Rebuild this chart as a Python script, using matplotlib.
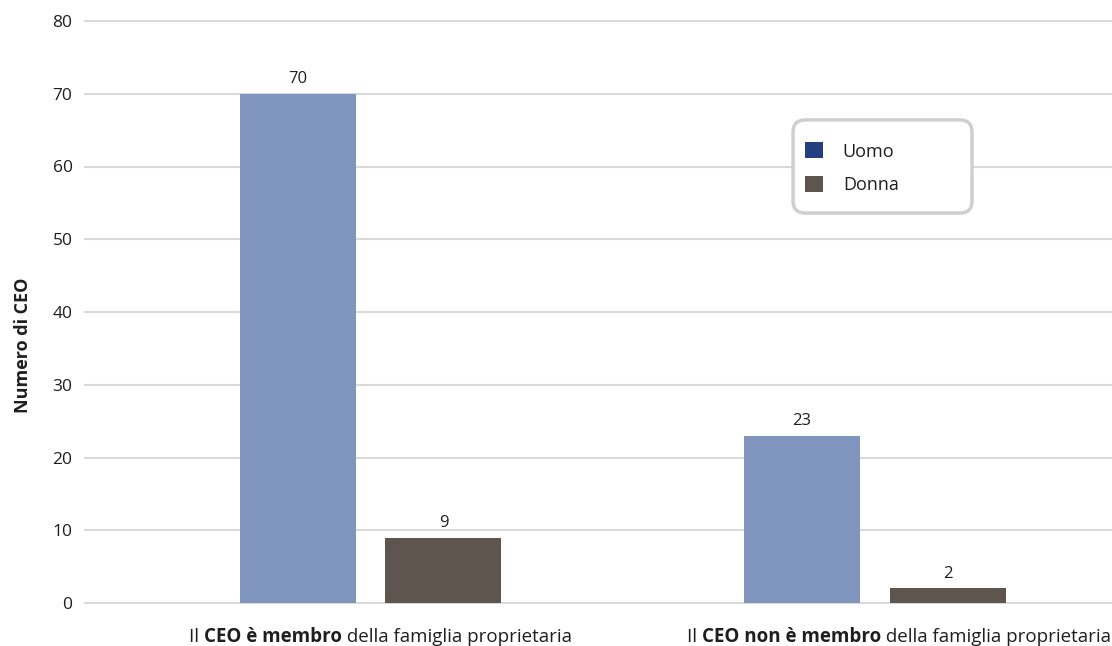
import matplotlib
matplotlib.use("Agg")
import matplotlib.pyplot as plt
import numpy as np
from matplotlib.patches import Patch, FancyBboxPatch
from matplotlib.offsetbox import TextArea, HPacker, AnnotationBbox

plt.rcParams['font.family'] = ['Open Sans', 'DejaVu Sans']

# Data
categories = [
    [("Il ", "normal"), ("CEO è membro", "bold"), (" della famiglia proprietaria", "normal")],
    [("Il ", "normal"), ("CEO non è membro", "bold"), (" della famiglia proprietaria", "normal")],
]
series_names = ["Uomo", "Donna"]
uomo = [70, 23]
donna = [9, 2]
y_ticks = [0, 10, 20, 30, 40, 50, 60, 70, 80]

bar_colors = ["#7f95bd", "#5f554f"]
legend_colors = ["#233f80", "#5f554f"]
text_color = "#1e1e1e"

fig = plt.figure(figsize=(11.12, 6.46), dpi=100)
ax = fig.add_axes([85 / 1112, 43 / 646, 1027 / 1112, 582 / 646])

x = np.arange(len(categories))
width = 0.23
offset = 0.1445

for vals, off, col in [(uomo, -offset, bar_colors[0]), (donna, offset, bar_colors[1])]:
    bars = ax.bar(x + off, vals, width=width, color=col, zorder=3)
    for b, v in zip(bars, vals):
        ax.annotate(f"{v}", (b.get_x() + b.get_width() / 2, v),
                    xytext=(0, 5), textcoords="offset points",
                    ha="center", va="bottom", fontsize=12, color=text_color)

ax.set_xlim(-0.566, 1.47)
ax.set_ylim(0, 80)
ax.set_yticks(y_ticks)
ax.set_yticklabels([str(t) for t in y_ticks], fontsize=12.5, color=text_color)
ax.tick_params(axis="y", length=0, pad=9)
ax.set_xticks([])
ax.grid(axis="y", color="#d9d9d9", linewidth=1.5, zorder=0)
for grid_line in ax.get_ygridlines():
    grid_line.set_clip_on(False)
for s in ax.spines.values():
    s.set_visible(False)

ax.set_ylabel("Numero di CEO", fontsize=13, fontweight="bold", color=text_color)
ax.yaxis.set_label_coords(-0.0516, 0.443)

# Category labels with mixed weight, set slightly right of the bar groups
label_shift_pt = [7, 17.5]
for xi, parts, dx in zip(x, categories, label_shift_pt):
    areas = [TextArea(t, textprops=dict(fontsize=13.5, fontweight=w, color=text_color))
             for t, w in parts]
    pack = HPacker(children=areas, pad=0, sep=0, align="baseline")
    ab = AnnotationBbox(pack, (xi, 0), xybox=(dx, -24.5), xycoords="data",
                        boxcoords="offset points", frameon=False,
                        box_alignment=(0.5, 0.5), annotation_clip=False)
    ax.add_artist(ab)

# Legend: rounded frame drawn separately, entries placed inside it
box = FancyBboxPatch((0.6894, 0.670), 0.8637 - 0.6894, 0.830 - 0.670,
                     boxstyle="round,pad=0,rounding_size=0.012",
                     transform=ax.transAxes, facecolor="white",
                     edgecolor="#cfcfcf", linewidth=2.5, zorder=5,
                     mutation_aspect=1027 / 582)
ax.add_patch(box)
handles = [Patch(facecolor=c, edgecolor="none") for c in legend_colors]
leg = ax.legend(handles, series_names, loc="center left",
                bbox_to_anchor=(0.701, 0.747), fontsize=13,
                handlelength=1.0, handleheight=1.0, handletextpad=1.1,
                labelspacing=0.85, borderpad=0, borderaxespad=0,
                frameon=False)
leg.set_zorder(6)
for t in leg.get_texts():
    t.set_color(text_color)

fig.savefig("out.png", dpi=100)
